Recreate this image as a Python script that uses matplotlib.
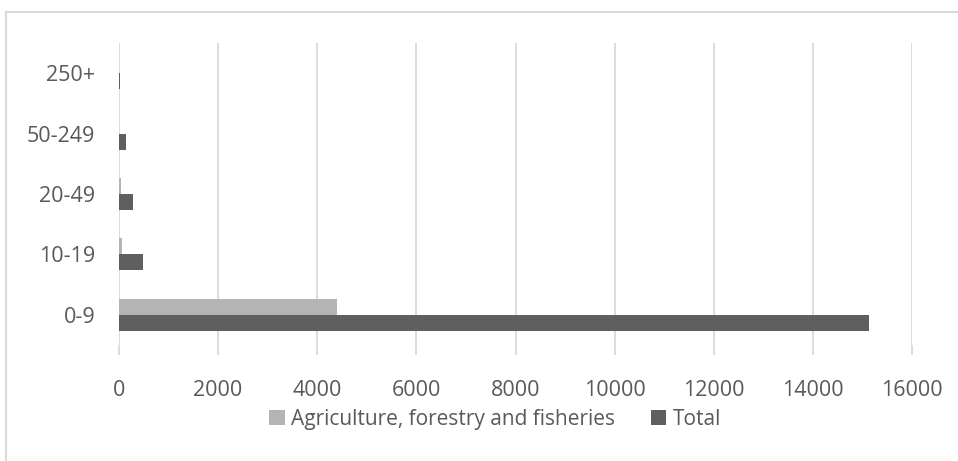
import matplotlib
matplotlib.use("Agg")
import matplotlib.pyplot as plt
from matplotlib.patches import Patch
from matplotlib.lines import Line2D
import numpy as np

categories = ["0-9", "10-19", "20-49", "50-249", "250+"]
agriculture = [4400, 60, 40, 10, 5]
total = [15130, 490, 280, 140, 20]
x_ticks = [0, 2000, 4000, 6000, 8000, 10000, 12000, 14000, 16000]
series_names = ["Agriculture, forestry and fisheries", "Total"]

W, H = 958, 461
fig = plt.figure(figsize=(W / 100, H / 100), dpi=100)
plt.rcParams['font.family'] = ['Open Sans', 'DejaVu Sans']

text_color = "#595959"
grid_color = "#d9d9d9"
c_agri = "#b4b4b4"
c_total = "#5f5f5f"
fs = 15.5

# outer chart border (top and left edges only visible)
fig.add_artist(Line2D([6 / W, 1.0], [(H - 12) / H, (H - 12) / H], transform=fig.transFigure,
                      color="#d9d9d9", linewidth=1.5))
fig.add_artist(Line2D([6 / W, 6 / W], [0.0, (H - 12) / H], transform=fig.transFigure,
                      color="#d9d9d9", linewidth=1.5))

ax = fig.add_axes([119 / W, (H - 345) / H, (912 - 119) / W, (345 - 43) / H])
y = np.arange(len(categories))
h = 0.265
ax.barh(y + h / 2, agriculture, height=h, color=c_agri, zorder=3)
ax.barh(y - h / 2, total, height=h, color=c_total, zorder=3)

ax.set_xlim(0, 16000)
ax.set_ylim(-0.5, len(categories) - 0.5)
ax.set_xticks(x_ticks)
ax.set_xticklabels([str(t) for t in x_ticks], fontsize=fs, color=text_color)
ax.set_yticks(y)
ax.set_yticklabels(categories, fontsize=fs, color=text_color)
ax.grid(axis="x", color=grid_color, linewidth=1.3, zorder=0)
for s in ax.spines.values():
    s.set_visible(False)
ax.tick_params(axis="x", length=7, color=grid_color, width=1.3, pad=18)
ax.tick_params(axis="y", length=0, pad=17)

handles = [Patch(facecolor=c_agri, edgecolor="none"), Patch(facecolor=c_total, edgecolor="none")]
fig.legend(handles, series_names, loc="center", bbox_to_anchor=(495 / W, 42 / H), ncol=2,
           frameon=False, fontsize=15, labelcolor=text_color, handlelength=0.75,
           handleheight=0.75, handletextpad=0.3, columnspacing=1.7)

fig.savefig("out.png", dpi=100)
